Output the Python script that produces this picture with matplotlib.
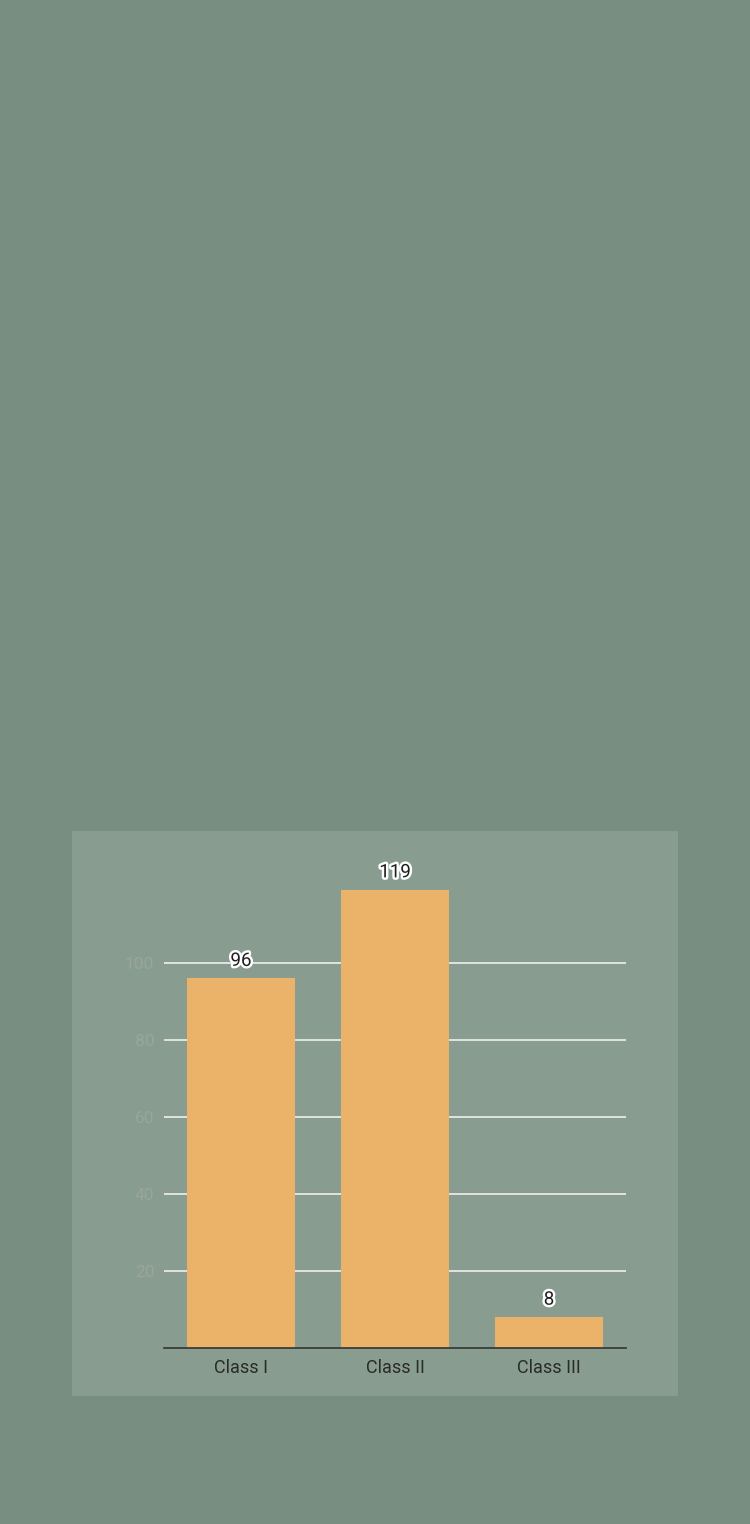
import matplotlib.pyplot as plt
import matplotlib.patheffects as pe

plt.rcParams['font.family'] = ['Roboto', 'DejaVu Sans']

classes = ['Class I', 'Class II', 'Class III']
counts = [96, 119, 8]
yticks = [20, 40, 60, 80, 100]

fig = plt.figure(figsize=(7.5, 15.24), dpi=100)
fig.patch.set_facecolor('#788e80')

# lighter panel behind the chart
panel = fig.add_axes([72 / 750, 1 - 1396 / 1524, 606 / 750, 565 / 1524])
panel.set_facecolor('#889c90')
panel.set_xticks([])
panel.set_yticks([])
for s in panel.spines.values():
    s.set_visible(False)

ax = fig.add_axes([164 / 750, 1 - 1348 / 1524, 462 / 750, 498 / 1524])
ax.set_facecolor('none')
ax.set_xlim(-0.5, 2.5)
ax.set_ylim(0, 498 / 3.85)

for y in yticks:
    ax.axhline(y, color='#f0f0f0', lw=1.2, zorder=1)

bars = ax.bar(range(len(classes)), counts, width=0.7, color='#eab369', zorder=2)
for b, v in zip(bars, counts):
    ax.text(b.get_x() + b.get_width() / 2, v + 2.2, str(v), ha='center', va='bottom',
            fontsize=13.5, color='#1e1e1e', zorder=3,
            path_effects=[pe.withStroke(linewidth=3.5, foreground='white')])

ax.set_xticks(range(len(classes)))
ax.set_xticklabels(classes, fontsize=13, color='#2a2a2a')
ax.set_yticks(yticks)
ax.set_yticklabels([str(t) for t in yticks], fontsize=12.5, color='#9aa59e')
ax.tick_params(axis='y', length=0, pad=7)
ax.tick_params(axis='x', length=0, pad=8)
for side in ['top', 'right', 'left']:
    ax.spines[side].set_visible(False)
ax.spines['bottom'].set_color('#333333')
ax.spines['bottom'].set_linewidth(1.2)

fig.savefig('out.png', dpi=100, facecolor=fig.get_facecolor())
